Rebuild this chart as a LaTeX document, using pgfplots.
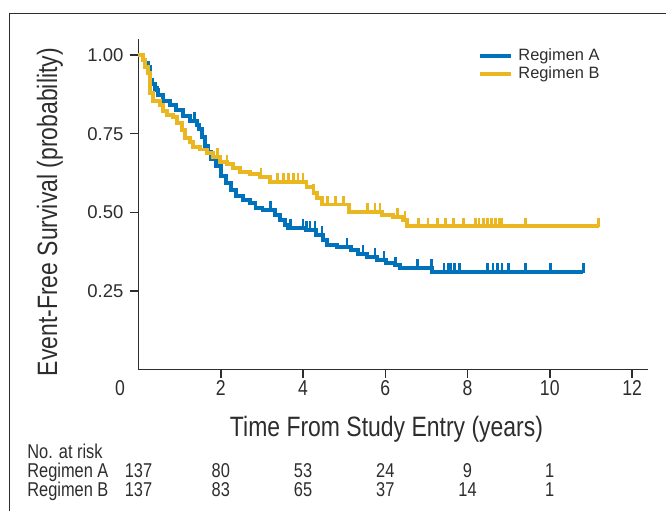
\documentclass[border=0pt]{standalone}
\usepackage{pgfplots}
\pgfplotsset{compat=1.18}
\usepackage{fontspec}
\setmainfont{Liberation Sans}
\newfontfamily\narrow[FakeStretch=0.82]{Liberation Sans}

\definecolor{regA}{RGB}{0,114,188}
\definecolor{regB}{RGB}{234,183,32}
\definecolor{axgray}{RGB}{45,45,45}

\begin{document}
\begin{tikzpicture}
\useasboundingbox (0,0) rectangle (333pt,255.5pt);
\draw[line width=0.5pt, axgray] (4.5pt,0) -- (4.5pt,249pt) -- (333pt,249pt);
\begin{axis}[
    at={(69.25pt,70.75pt)}, anchor=south west,
    scale only axis, width=254.6pt, height=165.25pt,
    xmin=0, xmax=12.38, ymin=0, ymax=1.051,
    axis lines*=left,
    axis line style={line width=0.75pt, axgray},
    tick align=outside, major tick length=4pt,
    tick style={line width=0.75pt, axgray},
    xtick={2,4,6,8,10,12},
    ytick={0.25,0.5,0.75,1},
    yticklabels={0.25,0.50,0.75,1.00},
    /pgf/number format/assume math mode=true,
    yticklabel style={font=\fontsize{9.25}{11}\selectfont, text=axgray},
    xticklabel style={font=\narrow\fontsize{10.75}{12}\selectfont, text=axgray, anchor=base, yshift=-9pt},
    xlabel={Time From Study Entry (years)},
    ylabel={Event-Free Survival (probability)},
    xlabel style={font=\narrow\fontsize{14}{16}\selectfont, text=axgray, at={(axis description cs:0.487,-0.18)}, anchor=center},
    ylabel style={font=\narrow\fontsize{14}{16}\selectfont, text=axgray, at={(axis description cs:-0.1738,0.476)}, anchor=center},
    clip=false,
    legend image code/.code={\draw[line width=1.8pt] (0pt,0pt) -- (15.5pt,0pt);},
    legend style={draw=none, fill=none, at={(axis cs:8.24,0.9685)}, anchor=west,
        inner sep=0pt, font=\fontsize{8.2}{9}\selectfont, text=axgray,
        nodes={inner sep=0pt, text height=6pt, text depth=1.7pt},
        row sep=1.3pt, column sep=3pt},
    legend cell align=left,
]
\addplot[const plot, regA, line width=1.8pt] coordinates {
(0,1.0) (0.11,0.985) (0.16,0.976) (0.23,0.963) (0.28,0.921) (0.33,0.908) (0.40,0.889)
(0.47,0.873) (0.60,0.854) (0.77,0.841) (0.91,0.825) (1.08,0.806) (1.25,0.790) (1.42,0.778)
(1.47,0.765) (1.55,0.739) (1.62,0.711) (1.69,0.692) (1.76,0.670) (1.89,0.647) (2.01,0.615)
(2.13,0.593) (2.25,0.571) (2.37,0.552) (2.54,0.539) (2.71,0.530) (2.84,0.514) (3.01,0.507)
(3.32,0.491) (3.44,0.475) (3.56,0.460) (3.64,0.450) (4.07,0.444) (4.32,0.428) (4.49,0.412)
(4.59,0.396) (4.83,0.390) (5.17,0.380) (5.34,0.367) (5.56,0.358) (5.80,0.348) (6.02,0.339)
(6.24,0.332) (6.36,0.323) (7.14,0.310) (10.81,0.310)
};
\addlegendentry{Regimen A}
\addplot[const plot, regB, line width=1.8pt] coordinates {
(0,1.0) (0.11,0.984) (0.16,0.962) (0.23,0.943) (0.28,0.879) (0.35,0.854) (0.52,0.841)
(0.60,0.822) (0.69,0.809) (0.84,0.803) (0.94,0.784) (1.06,0.762) (1.13,0.737) (1.25,0.724)
(1.33,0.708) (1.50,0.699) (1.67,0.689) (1.81,0.676) (1.98,0.660) (2.15,0.654) (2.30,0.641)
(2.47,0.628) (2.71,0.622) (2.96,0.612) (3.20,0.596) (4.08,0.580) (4.25,0.561) (4.34,0.545)
(4.46,0.525) (5.12,0.501) (5.92,0.491) (6.19,0.485) (6.43,0.476) (6.53,0.456) (11.20,0.456)
};
\addlegendentry{Regimen B}
% censored observations
\addplot[forget plot, only marks, regA, mark=|, mark size=2.3pt,
    mark options={yshift=2pt, line width=1.4pt}] coordinates {
(0.47,0.873) (1.37,0.790) (3.20,0.507) (3.69,0.450) (4.00,0.450) (4.08,0.444) (4.17,0.444)
(4.29,0.444) (4.46,0.428) (5.07,0.390) (5.46,0.367) (5.75,0.358) (5.97,0.348) (6.24,0.332)
(6.78,0.323) (7.12,0.323) (7.43,0.310) (7.53,0.310) (7.60,0.310) (7.68,0.310) (7.80,0.310)
(8.48,0.310) (8.62,0.310) (8.72,0.310) (8.84,0.310) (8.99,0.310) (9.40,0.310) (10.01,0.310)
(10.81,0.310)
};
\addplot[forget plot, only marks, regB, mark=|, mark size=2.3pt,
    mark options={yshift=2pt, line width=1.4pt}] coordinates {
(1.93,0.676) (2.15,0.654) (2.98,0.612) (3.37,0.596) (3.52,0.596) (3.64,0.596) (3.76,0.596)
(3.88,0.596) (4.00,0.596) (4.25,0.561) (4.59,0.525) (4.78,0.525) (4.98,0.525) (5.56,0.501)
(5.75,0.501) (5.87,0.501) (6.29,0.485) (6.48,0.476) (6.80,0.456) (7.04,0.456) (7.26,0.456)
(7.46,0.456) (7.65,0.456) (7.90,0.456) (8.19,0.456) (8.28,0.456) (8.38,0.456) (8.48,0.456)
(8.58,0.456) (8.67,0.456) (8.77,0.456) (8.84,0.456) (9.40,0.456) (11.18,0.456)
};
% origin label
\node[font=\narrow\fontsize{10.75}{12}\selectfont, text=axgray, anchor=base]
    at (axis cs:0,0) [xshift=-9.25pt, yshift=-13pt] {0};
% number at risk table
\begin{scope}[every node/.style={font=\narrow\fontsize{10}{12}\selectfont, text=axgray, anchor=base, inner sep=0pt}]
\node[anchor=base west] at (axis cs:-2.713,0) [yshift=-44.25pt] {No. at risk};
\node[anchor=base west] at (axis cs:-2.713,0) [yshift=-53.75pt] {Regimen A};
\node[anchor=base west] at (axis cs:-2.713,0) [yshift=-63.25pt] {Regimen B};
\node at (axis cs:0,0) [yshift=-53.75pt] {137};
\node at (axis cs:2,0) [yshift=-53.75pt] {80};
\node at (axis cs:4,0) [yshift=-53.75pt] {53};
\node at (axis cs:6,0) [yshift=-53.75pt] {24};
\node at (axis cs:8,0) [yshift=-53.75pt] {9};
\node at (axis cs:10,0) [yshift=-53.75pt] {1};
\node at (axis cs:0,0) [yshift=-63.25pt] {137};
\node at (axis cs:2,0) [yshift=-63.25pt] {83};
\node at (axis cs:4,0) [yshift=-63.25pt] {65};
\node at (axis cs:6,0) [yshift=-63.25pt] {37};
\node at (axis cs:8,0) [yshift=-63.25pt] {14};
\node at (axis cs:10,0) [yshift=-63.25pt] {1};
\end{scope}
\end{axis}
\end{tikzpicture}
\end{document}
